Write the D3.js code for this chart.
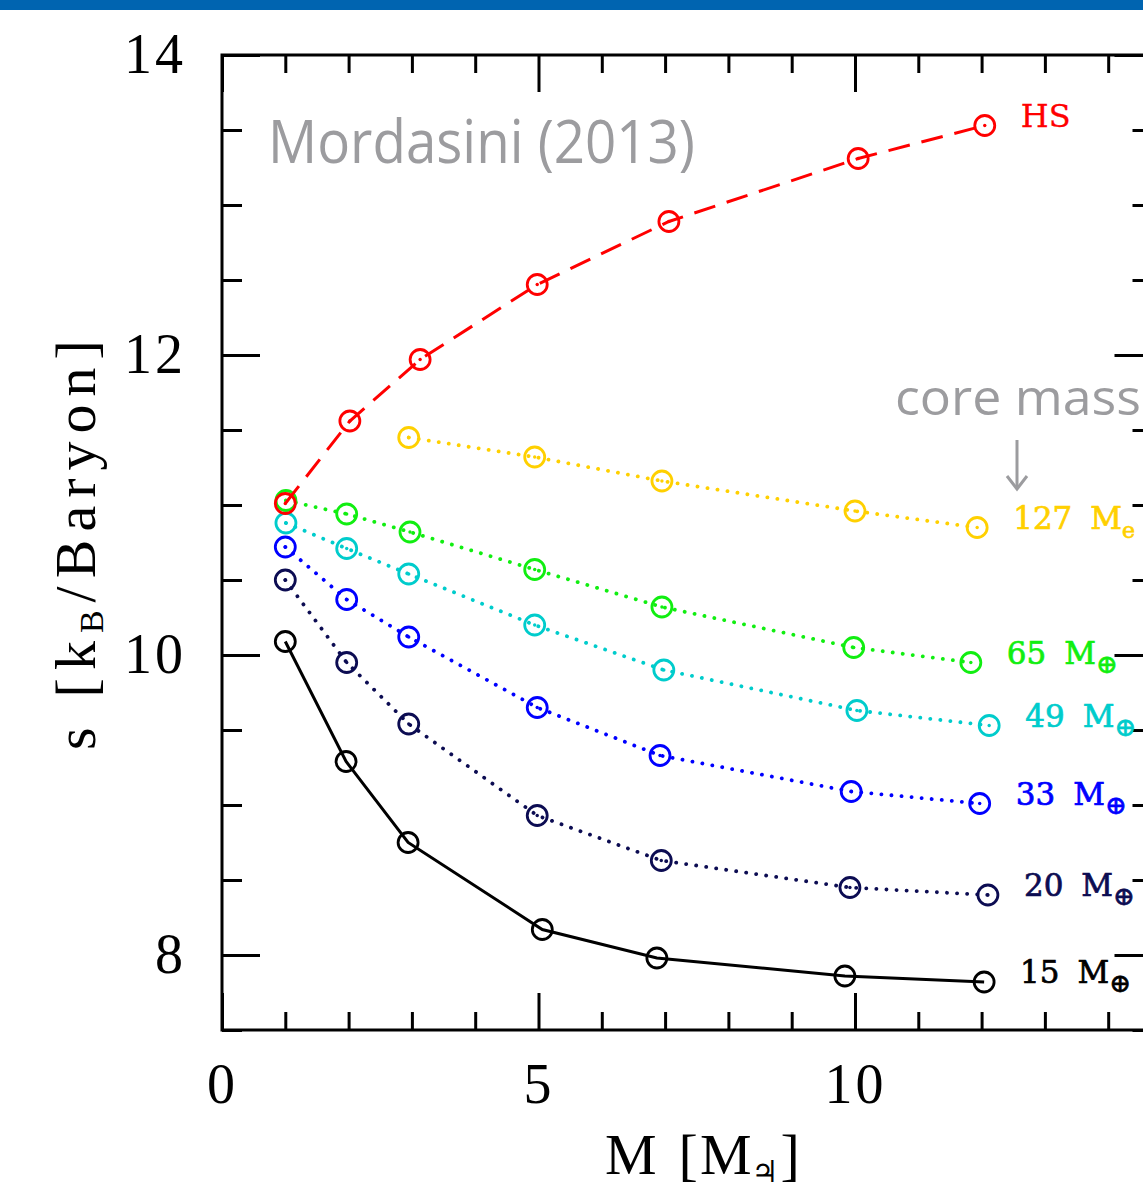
<!DOCTYPE html>
<html>
<head>
<meta charset="utf-8">
<script src="https://cdn.jsdelivr.net/npm/d3@7"></script>
<style>
html,body{margin:0;padding:0;background:#fff;}
svg{display:block;}
</style>
</head>
<body>
<svg id="chart" width="1143" height="1196"></svg>
<script>
// ---- data (planet mass in Jupiter masses, entropy in kB/baryon) ----
const hsX   = [1.00, 2.02, 3.13, 4.98, 7.06, 10.05, 12.05];
const hsS   = [11.01, 11.56, 11.97, 12.47, 12.89, 13.31, 13.53];
const c127X = [2.95, 4.94, 6.95, 10.00, 11.93];
const c127S = [11.45, 11.32, 11.16, 10.96, 10.85];
const c65X  = [1.01, 1.97, 2.97, 4.94, 6.95, 9.98, 11.83];
const c65S  = [11.03, 10.94, 10.82, 10.57, 10.32, 10.05, 9.95];
const c49X  = [1.01, 1.97, 2.95, 4.94, 6.98, 10.03, 12.12];
const c49S  = [10.88, 10.71, 10.54, 10.20, 9.90, 9.63, 9.53];
const c33X  = [1.00, 1.97, 2.95, 4.98, 6.92, 9.94, 11.97];
const c33S  = [10.72, 10.37, 10.12, 9.65, 9.33, 9.09, 9.01];
const c20X  = [1.00, 1.97, 2.95, 4.98, 6.94, 9.92, 12.10];
const c20S  = [10.50, 9.95, 9.54, 8.93, 8.63, 8.45, 8.40];
const c15X  = [1.00, 1.96, 2.94, 5.06, 6.87, 9.84, 12.04];
const c15S  = [10.09, 9.29, 8.75, 8.17, 7.98, 7.86, 7.82];

const seriesNames = ["15", "20", "33", "49", "65", "127", "HS"];
const seriesSub   = ["⊕", "⊕", "⊕", "⊕", "⊕", "e", ""];

const xMajorTicks = [0, 5, 10];
const xMinorTicks = [1, 2, 3, 4, 6, 7, 8, 9, 11, 12, 13, 14];
const yMajorTicks = [8, 10, 12, 14];
const yMinorTicks = [7.5, 8.5, 9, 9.5, 10.5, 11, 11.5, 12.5, 13, 13.5];

// ---- styles ----
const styles = [
  {color:"#000000", dash:null,    cap:"butt",  dot:false, w:3},
  {color:"#0c0c52", dash:"0.1,10", cap:"round", dot:true, w:3.8},
  {color:"#0000ff", dash:"0.1,10", cap:"round", dot:true, w:3.8},
  {color:"#00cccc", dash:"0.1,10", cap:"round", dot:true, w:3.8},
  {color:"#11ee11", dash:"0.1,10", cap:"round", dot:true, w:3.8},
  {color:"#ffd000", dash:"0.1,10", cap:"round", dot:true, w:3.8},
  {color:"#ff0000", dash:"22,12",  cap:"butt",  dot:true, w:3}
];
const seriesX = [c15X, c20X, c33X, c49X, c65X, c127X, hsX];
const seriesS = [c15S, c20S, c33S, c49S, c65S, c127S, hsS];

const svg = d3.select("#chart");
const L = 222, R = 1152.5, T = 55, B = 1030;
const x = d3.scaleLinear().domain([0, 14.7]).range([L, R]);
const y = d3.scaleLinear().domain([7.5, 14]).range([B, T]);

// top blue bar
svg.append("rect").attr("x",0).attr("y",0).attr("width",1143).attr("height",10).attr("fill","#0064b0");

const axisFont = "'Liberation Serif', 'DejaVu Serif', serif";

function styleAxis(g){
  g.selectAll("path.domain").remove();
  g.selectAll(".tick line").attr("stroke","#000").attr("stroke-width",3);
  g.selectAll(".tick text").attr("font-family",axisFont).attr("font-size",56).attr("fill","#000").attr("letter-spacing",3);
}

// bottom
svg.append("g").attr("transform",`translate(0,${B})`)
  .call(d3.axisBottom(x).tickValues(xMajorTicks).tickSize(-37).tickPadding(33).tickFormat(d3.format("d")))
  .call(styleAxis);
svg.append("g").attr("transform",`translate(0,${B})`)
  .call(d3.axisBottom(x).tickValues(xMinorTicks).tickSize(-18).tickFormat(""))
  .call(styleAxis);
// top
svg.append("g").attr("transform",`translate(0,${T})`)
  .call(d3.axisTop(x).tickValues(xMajorTicks).tickSize(-37).tickFormat(""))
  .call(styleAxis);
svg.append("g").attr("transform",`translate(0,${T})`)
  .call(d3.axisTop(x).tickValues(xMinorTicks).tickSize(-18).tickFormat(""))
  .call(styleAxis);
// left
svg.append("g").attr("transform",`translate(${L},0)`)
  .call(d3.axisLeft(y).tickValues(yMajorTicks).tickSize(-38).tickPadding(36).tickFormat(d3.format("d")))
  .call(styleAxis);
svg.append("g").attr("transform",`translate(${L},0)`)
  .call(d3.axisLeft(y).tickValues(yMinorTicks).tickSize(-20).tickFormat(""))
  .call(styleAxis);
// right
svg.append("g").attr("transform",`translate(${R},0)`)
  .call(d3.axisRight(y).tickValues(yMajorTicks).tickSize(-38).tickFormat(""))
  .call(styleAxis);
svg.append("g").attr("transform",`translate(${R},0)`)
  .call(d3.axisRight(y).tickValues(yMinorTicks).tickSize(-20).tickFormat(""))
  .call(styleAxis);

// frame
svg.append("rect").attr("x",L).attr("y",T).attr("width",R-L).attr("height",B-T)
  .attr("fill","none").attr("stroke","#000").attr("stroke-width",3);

// series
const line = d3.line().x(d=>x(d[0])).y(d=>y(d[1]));
const labelFont = "'DejaVu Serif', serif";
seriesNames.forEach((name,i)=>{
  const st = styles[i];
  const pts = seriesX[i].map((v,j)=>[v, seriesS[i][j]]);
  const g = svg.append("g");
  g.append("path").datum(pts).attr("d",line).attr("fill","none")
    .attr("stroke",st.color).attr("stroke-width",st.w)
    .attr("stroke-dasharray",st.dash).attr("stroke-linecap",st.cap);
  g.selectAll("circle.m").data(pts).join("circle").attr("class","m")
    .attr("cx",d=>x(d[0])).attr("cy",d=>y(d[1])).attr("r",10)
    .attr("fill","none").attr("stroke",st.color).attr("stroke-width",2.8);
  if (st.dot){
    g.selectAll("circle.c").data(pts).join("circle").attr("class","c")
      .attr("cx",d=>x(d[0])).attr("cy",d=>y(d[1])).attr("r",1.7).attr("fill",st.color);
  }
  const last = pts[pts.length-1];
  const t = g.append("text").attr("x",x(last[0])+36).attr("y",y(last[1])+1)
    .attr("font-family",labelFont).attr("font-size",31).attr("fill",st.color)
    .attr("stroke",st.color).attr("stroke-width",0.7);
  if (name === "HS"){
    t.attr("font-size",32).attr("stroke-width",0.3).text("HS");
  } else {
    t.append("tspan").text(name);
    t.append("tspan").attr("dx",18).text("M");
    t.append("tspan").attr("dy",9).attr("font-size",name==="127"?22:26).text(seriesSub[i]);
  }
});

// annotations
svg.append("text").attr("x",268).attr("y",163).attr("font-family","'Open Sans', 'Noto Sans', sans-serif")
  .attr("font-size",60).attr("fill","#9c9c9f").attr("textLength",427).attr("lengthAdjust","spacingAndGlyphs")
  .text("Mordasini (2013)");
svg.append("text").attr("x",895).attr("y",415).attr("font-family","'Open Sans', 'Noto Sans', sans-serif")
  .attr("font-size",50).attr("fill","#9c9c9f").attr("textLength",246).attr("lengthAdjust","spacingAndGlyphs")
  .text("core mass");
svg.append("line").attr("x1",1017).attr("y1",440).attr("x2",1017).attr("y2",489)
  .attr("stroke","#9c9c9f").attr("stroke-width",3);
svg.append("path").attr("d","M1007,476 L1017,489 L1027,476").attr("fill","none")
  .attr("stroke","#9c9c9f").attr("stroke-width",3).attr("stroke-linejoin","miter");

// x axis label
const xl = svg.append("text").attr("x",605).attr("y",1174).attr("font-family",axisFont).attr("font-size",58).attr("fill","#000");
xl.append("tspan").text("M");
xl.append("tspan").attr("dx",22).text("[");
xl.append("tspan").attr("dx",2).text("M");
xl.append("tspan").attr("dy",8).attr("font-size",30).attr("font-family","'DejaVu Sans', sans-serif").text("♃");
xl.append("tspan").attr("dy",-8).attr("dx",2).text("]");

// y axis label
const yl = svg.append("text").attr("transform","translate(95,750) rotate(-90)")
  .attr("font-family",axisFont).attr("font-size",58).attr("fill","#000").attr("letter-spacing",8);
yl.append("tspan").text("s");
yl.append("tspan").attr("dx",22).text("[k");
yl.append("tspan").attr("dy",8).attr("font-size",34).text("B");
yl.append("tspan").attr("dy",-8).text("/Baryon]");
</script>
</body>
</html>
